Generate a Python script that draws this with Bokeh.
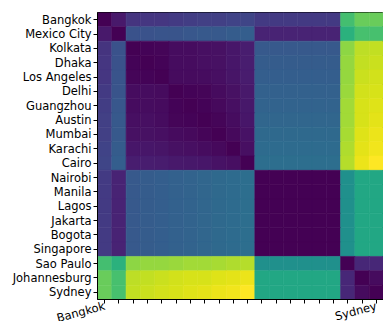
import math
from bokeh.plotting import figure
from bokeh.models import ColumnDataSource, LinearColorMapper, Range1d, FixedTicker
from bokeh.palettes import Viridis256
from bokeh.transform import transform
from bokeh.embed import file_html
from bokeh.resources import INLINE

cities = ["Bangkok", "Mexico City", "Kolkata", "Dhaka", "Los Angeles", "Delhi",
          "Guangzhou", "Austin", "Mumbai", "Karachi", "Cairo", "Nairobi", "Manila",
          "Lagos", "Jakarta", "Bogota", "Singapore", "Sao Paulo", "Johannesburg", "Sydney"]

# x tick labels shown in the reference (only first and last)
x_tick_labels = ["Bangkok", "", "", "", "", "", "", "", "", "", "", "", "", "", "", "", "", "", "", "Sydney"]

distance = [
    [0.00, 0.07, 0.15, 0.16, 0.16, 0.17, 0.18, 0.19, 0.19, 0.20, 0.21, 0.17, 0.17, 0.17, 0.17, 0.17, 0.17, 0.70, 0.77, 0.77],
    [0.07, 0.00, 0.25, 0.25, 0.26, 0.26, 0.27, 0.28, 0.28, 0.29, 0.30, 0.10, 0.10, 0.10, 0.10, 0.10, 0.10, 0.64, 0.71, 0.71],
    [0.15, 0.25, 0.00, 0.010, 0.015, 0.035, 0.035, 0.040, 0.045, 0.060, 0.080, 0.28, 0.28, 0.28, 0.28, 0.28, 0.28, 0.83, 0.90, 0.91],
    [0.16, 0.25, 0.010, 0.00, 0.010, 0.035, 0.035, 0.040, 0.045, 0.060, 0.080, 0.29, 0.29, 0.29, 0.29, 0.29, 0.29, 0.84, 0.91, 0.92],
    [0.16, 0.26, 0.015, 0.010, 0.00, 0.030, 0.030, 0.035, 0.040, 0.055, 0.075, 0.30, 0.30, 0.30, 0.30, 0.30, 0.30, 0.84, 0.92, 0.93],
    [0.17, 0.26, 0.035, 0.035, 0.030, 0.00, 0.010, 0.015, 0.030, 0.045, 0.070, 0.31, 0.31, 0.31, 0.31, 0.31, 0.31, 0.85, 0.93, 0.94],
    [0.18, 0.27, 0.035, 0.035, 0.030, 0.010, 0.00, 0.010, 0.025, 0.040, 0.065, 0.32, 0.32, 0.32, 0.32, 0.32, 0.32, 0.86, 0.94, 0.95],
    [0.19, 0.28, 0.040, 0.040, 0.035, 0.015, 0.010, 0.00, 0.015, 0.035, 0.060, 0.33, 0.33, 0.33, 0.33, 0.33, 0.33, 0.86, 0.94, 0.96],
    [0.19, 0.28, 0.045, 0.045, 0.040, 0.030, 0.025, 0.015, 0.00, 0.025, 0.050, 0.34, 0.34, 0.34, 0.34, 0.34, 0.34, 0.87, 0.95, 0.97],
    [0.20, 0.29, 0.060, 0.060, 0.055, 0.045, 0.040, 0.035, 0.025, 0.00, 0.040, 0.35, 0.35, 0.35, 0.35, 0.35, 0.35, 0.88, 0.96, 0.98],
    [0.21, 0.30, 0.080, 0.080, 0.075, 0.070, 0.065, 0.060, 0.050, 0.040, 0.00, 0.36, 0.36, 0.36, 0.36, 0.36, 0.36, 0.89, 0.97, 1.00],
    [0.17, 0.10, 0.28, 0.29, 0.30, 0.31, 0.32, 0.33, 0.34, 0.35, 0.36, 0.00, 0.00, 0.00, 0.00, 0.00, 0.00, 0.50, 0.60, 0.60],
    [0.17, 0.10, 0.28, 0.29, 0.30, 0.31, 0.32, 0.33, 0.34, 0.35, 0.36, 0.00, 0.00, 0.00, 0.00, 0.00, 0.00, 0.50, 0.60, 0.60],
    [0.17, 0.10, 0.28, 0.29, 0.30, 0.31, 0.32, 0.33, 0.34, 0.35, 0.36, 0.00, 0.00, 0.00, 0.00, 0.00, 0.00, 0.50, 0.60, 0.60],
    [0.17, 0.10, 0.28, 0.29, 0.30, 0.31, 0.32, 0.33, 0.34, 0.35, 0.36, 0.00, 0.00, 0.00, 0.00, 0.00, 0.00, 0.50, 0.60, 0.60],
    [0.17, 0.10, 0.28, 0.29, 0.30, 0.31, 0.32, 0.33, 0.34, 0.35, 0.36, 0.00, 0.00, 0.00, 0.00, 0.00, 0.00, 0.50, 0.60, 0.60],
    [0.17, 0.10, 0.28, 0.29, 0.30, 0.31, 0.32, 0.33, 0.34, 0.35, 0.36, 0.00, 0.00, 0.00, 0.00, 0.00, 0.00, 0.50, 0.60, 0.60],
    [0.70, 0.64, 0.83, 0.84, 0.84, 0.85, 0.86, 0.86, 0.87, 0.88, 0.89, 0.50, 0.50, 0.50, 0.50, 0.50, 0.50, 0.00, 0.11, 0.11],
    [0.77, 0.71, 0.90, 0.91, 0.92, 0.93, 0.94, 0.94, 0.95, 0.96, 0.97, 0.60, 0.60, 0.60, 0.60, 0.60, 0.60, 0.11, 0.00, 0.03],
    [0.77, 0.71, 0.91, 0.92, 0.93, 0.94, 0.95, 0.96, 0.97, 0.98, 1.00, 0.60, 0.60, 0.60, 0.60, 0.60, 0.60, 0.11, 0.03, 0.00],
]

n = len(cities)
xs, ys, vs = [], [], []
for i in range(n):
    for j in range(n):
        xs.append(j)
        ys.append(i)
        vs.append(distance[i][j])

src = ColumnDataSource(dict(x=xs, y=ys, v=vs))
mapper = LinearColorMapper(palette=Viridis256, low=0.0, high=1.0)

p = figure(x_range=Range1d(-0.5, n - 0.5), y_range=Range1d(n - 0.5, -0.5),
           frame_width=286, frame_height=287, output_backend="svg",
           toolbar_location=None, min_border_left=97, min_border_top=12,
           min_border_right=0, min_border_bottom=4)
p.rect(x="x", y="y", width=1, height=1, source=src,
       fill_color=transform("v", mapper), line_color=transform("v", mapper), line_width=0.6)

p.grid.grid_line_color = None
p.outline_line_color = "black"
p.outline_line_width = 1
p.background_fill_color = "white"
p.border_fill_color = "white"

ticks = list(range(n))
for ax in (p.xaxis[0], p.yaxis[0]):
    ax.ticker = FixedTicker(ticks=ticks)
    ax.axis_line_color = "black"
    ax.major_tick_line_color = "black"
    ax.major_tick_out = 4
    ax.major_tick_in = 0
    ax.minor_tick_line_color = None
    ax.minor_tick_out = 0
    ax.major_label_text_font = "DejaVu Sans"
    ax.major_label_text_font_size = "11.5px"
    ax.major_label_text_color = "black"
    ax.major_label_standoff = 2

p.yaxis[0].major_label_overrides = {i: c for i, c in enumerate(cities)}
p.xaxis[0].major_label_overrides = {i: c for i, c in enumerate(x_tick_labels)}
p.xaxis[0].major_label_orientation = math.radians(15)

open("out.html", "w").write(file_html(p, INLINE))
